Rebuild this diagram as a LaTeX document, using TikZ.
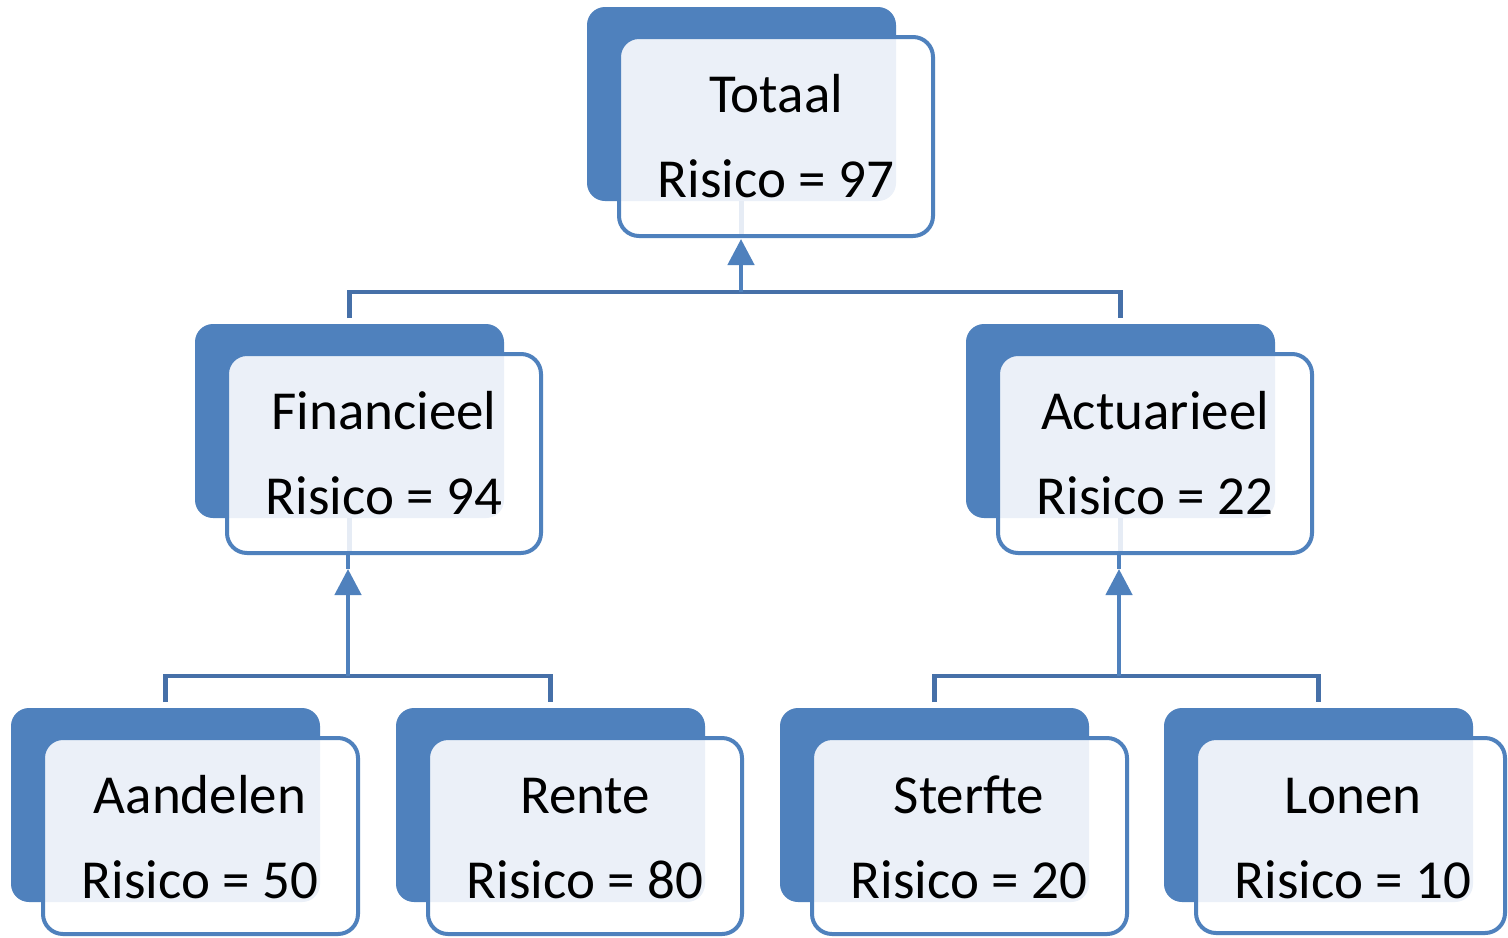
\documentclass[tikz,border=0pt]{standalone}
\usepackage{fontspec}
\setmainfont{Carlito}
\usetikzlibrary{calc,arrows.meta}

\definecolor{cardblue}{HTML}{4F81BD}
\definecolor{cardtint}{HTML}{EBF0F8}
\definecolor{treeblue}{HTML}{4670A8}
\definecolor{stemfaint}{HTML}{E6ECF5}

\tikzset{
  backcard/.style={rectangle, rounded corners=9pt, fill=cardblue, draw=none,
    inner sep=0pt, outer sep=0pt, anchor=north west},
  frontcard/.style={rectangle, rounded corners=10pt, draw=cardblue, line width=2pt,
    inner sep=0pt, outer sep=0pt, anchor=north west},
  cardtext/.style={inner sep=0pt, anchor=base, text=black,
    font=\fontsize{27.5pt}{33pt}\selectfont},
  tree/.style={draw=treeblue, line width=2.3pt},
  stem/.style={draw=cardblue, line width=2.3pt},
  stemtip/.style={stem, -{Triangle[width=13pt,length=13pt]}},
  ghost/.style={draw=stemfaint, line width=2.3pt},
}

% \riskcard{name}{left}{top}{title}{value}{front width}{front height}
% back card 309 x 194, front card offset by (32,30)
\newcommand\riskcard[7]{%
  \node[backcard, minimum width=154.5pt, minimum height=97pt] (#1b) at (#2,#3) {};
  \fill[white, rounded corners=10pt] ({#2+32},{#3+30}) rectangle ++(#6,#7);
  \begin{scope}
    \clip[rounded corners=9pt] (#2,#3) rectangle ++(309,194);
    \fill[cardtint, rounded corners=10pt] ({#2+32},{#3+30}) rectangle ++(#6,#7);
  \end{scope}
  \node[frontcard, minimum width=#6*0.5pt, minimum height=#7*0.5pt] (#1) at ({#2+32},{#3+30}) {};
  \node[cardtext] (#1t) at ({#2+32+157},{#3+30+75}) {#4};
  \node[cardtext] (#1v) at ({#2+32+157},{#3+30+160}) {#5};
}

% faint continuation of an incoming stem inside a card
\newcommand\ghoststem[1]{%
  \draw[ghost] (#1b.south) -- ($(#1.south -| #1b.south)+(0,-2)$);
}

\begin{document}
\begin{tikzpicture}[x=0.5pt, y=-0.5pt]
  \clip (0,0) rectangle (1508,937);
  \fill[white] (0,0) rectangle (1508,937);

  % cards
  \riskcard{tot}{587}{7}{Totaal}{Risico = 97}{314}{199}
  \riskcard{fin}{195}{324}{Financieel}{Risico = 94}{314}{199}
  \riskcard{act}{966}{324}{Actuarieel}{Risico = 22}{314}{199}
  \riskcard{aan}{11}{708}{Aandelen}{Risico = 50}{315}{196}
  \riskcard{ren}{396}{708}{Rente}{Risico = 80}{314}{196}
  \riskcard{ste}{780}{708}{Sterfte}{Risico = 20}{315}{196}
  \riskcard{lon}{1164}{708}{Lonen}{Risico = 10}{309}{195}

  \ghoststem{tot}
  \ghoststem{fin}
  \ghoststem{act}

  % junction points of the tree
  \coordinate (jtop) at (741,292);
  \coordinate (jfin) at (348,676);
  \coordinate (jact) at (1119,676);
  \coordinate (ttop) at (741,239);
  \coordinate (tfin) at (348,569);
  \coordinate (tact) at (1119,569);

  % Totaal <- Financieel, Actuarieel
  \draw[tree] ($(finb.north)+(0,-6)$) |- (jtop) -| ($(actb.north)+(0,-6)$);
  \draw[stemtip] (jtop) -- (ttop);

  % Financieel <- Aandelen, Rente
  \draw[tree] ($(aanb.north)+(0,-6)$) |- (jfin) -| ($(renb.north)+(0,-6)$);
  \draw[stem] (tfin) -- (fin.south -| tfin);
  \draw[stemtip] (jfin) -- (tfin);

  % Actuarieel <- Sterfte, Lonen
  \draw[tree] ($(steb.north)+(0,-6)$) |- (jact) -| ($(lonb.north)+(0,-6)$);
  \draw[stem] (tact) -- (act.south -| tact);
  \draw[stemtip] (jact) -- (tact);
\end{tikzpicture}
\end{document}
